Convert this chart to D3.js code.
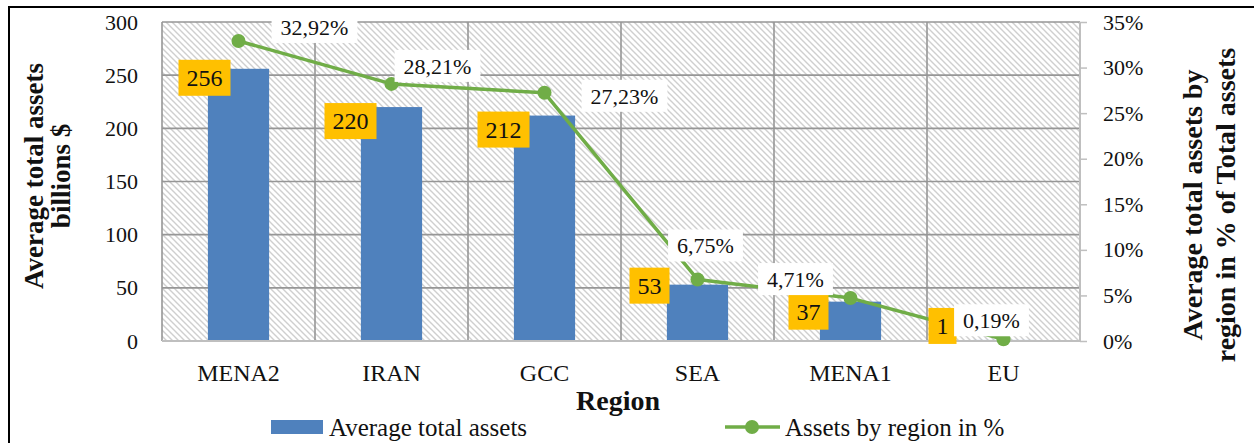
<!DOCTYPE html>
<html>
<head>
<meta charset="utf-8">
<script src="https://cdn.jsdelivr.net/npm/d3@7/dist/d3.min.js"></script>
<style>
  html, body { margin: 0; padding: 0; background: #fff; }
  svg { display: block; }
  svg text { font-family: "Liberation Serif", "DejaVu Serif", "Noto Serif", serif !important; fill: #111; }
</style>
</head>
<body>
<svg id="chart" width="1254" height="443"></svg>
<script>
// ---- data ----
const categories = ["MENA2", "IRAN", "GCC", "SEA", "MENA1", "EU"];
const avgAssets = [256, 220, 212, 53, 37, 1];
const assetsPct = [0.3292, 0.2821, 0.2723, 0.0675, 0.0471, 0.0019];
const pctLabels = ["32,92%", "28,21%", "27,23%", "6,75%", "4,71%", "0,19%"];
const leftTicks = [0, 50, 100, 150, 200, 250, 300];
const rightTicks = [0, 0.05, 0.10, 0.15, 0.20, 0.25, 0.30, 0.35];
const seriesNames = ["Average total assets", "Assets by region in %"];

// label nudges (manual placement as in the reference), pixels
const valueLabelNudge = [[-34, 9], [-41, 14], [-41, 14], [-48, 1], [-42, 10], [-61, -14]];
const pctLabelNudge = [[76, -14], [46, -18], [80, 3], [8, -34], [-55, -19], [-12, -19]];

// ---- layout ----
const W = 1254, H = 443;
const plot = { left: 162, right: 1080, top: 22, bottom: 341 };
const FONT = "'Liberation Serif', 'DejaVu Serif', 'Noto Serif', serif";
const svg = d3.select("#chart").style("font-family", FONT);

const x = d3.scaleBand().domain(categories).range([plot.left, plot.right]).padding(0);
const yL = d3.scaleLinear().domain([0, 300]).range([plot.bottom, plot.top]);
const yR = d3.scaleLinear().domain([0, 0.35]).range([plot.bottom, plot.top]);

// outer border (top + left visible)
svg.append("line").attr("x1", 9).attr("x2", W).attr("y1", 7).attr("y2", 7)
  .attr("stroke", "#000").attr("stroke-width", 2);
svg.append("line").attr("x1", 9).attr("x2", 9).attr("y1", 6).attr("y2", H)
  .attr("stroke", "#000").attr("stroke-width", 2);

// hatch pattern
const defs = svg.append("defs");
const pat = defs.append("pattern").attr("id", "hatch")
  .attr("patternUnits", "userSpaceOnUse").attr("width", 6).attr("height", 6);
pat.append("rect").attr("width", 6).attr("height", 6).attr("fill", "#fff");
pat.append("path").attr("d", "M-1,-1 L7,7 M-1,5 L1,7 M5,-1 L7,1")
  .attr("stroke", "#cfcfcf").attr("stroke-width", 1.4);

svg.append("rect").attr("x", plot.left).attr("y", plot.top)
  .attr("width", plot.right - plot.left).attr("height", plot.bottom - plot.top)
  .attr("fill", "url(#hatch)");

// gridlines
const grid = svg.append("g");
grid.selectAll(".hg").data(leftTicks.filter(d => d > 0)).join("line")
  .attr("x1", plot.left).attr("x2", plot.right)
  .attr("y1", d => yL(d)).attr("y2", d => yL(d))
  .attr("stroke", "#969696").attr("stroke-width", 1.6);
grid.selectAll(".vg").data(categories).join("line")
  .attr("x1", d => x(d)).attr("x2", d => x(d))
  .attr("y1", plot.top).attr("y2", plot.bottom)
  .attr("stroke", "#969696").attr("stroke-width", 1.6);

// bars
const bw = x.bandwidth() * 0.4;
svg.append("g").selectAll("rect").data(avgAssets).join("rect")
  .attr("x", (d, i) => x(categories[i]) + x.bandwidth() / 2 - bw / 2)
  .attr("y", d => yL(d))
  .attr("width", bw)
  .attr("height", d => yL(0) - yL(d))
  .attr("fill", "#4F81BD");

// bottom axis line
svg.append("line").attr("x1", plot.left).attr("x2", plot.right)
  .attr("y1", plot.bottom).attr("y2", plot.bottom)
  .attr("stroke", "#bfbfbf").attr("stroke-width", 2);

function styleTicks(g, size) {
  g.attr("font-family", FONT);
  g.selectAll("text").attr("font-family", FONT).style("font-size", size + "px").attr("fill", "#111");
}

// left axis
const axL = d3.axisLeft(yL).tickValues(leftTicks).tickSize(0).tickPadding(24);
const gL = svg.append("g").attr("transform", `translate(${plot.left},0)`).call(axL);
gL.select(".domain").remove();
styleTicks(gL, 22);

// right axis
const axR = d3.axisRight(yR).tickValues(rightTicks).tickSize(7).tickPadding(16)
  .tickFormat(d => Math.round(d * 100) + "%");
const gR = svg.append("g").attr("transform", `translate(${plot.right},0)`).call(axR);
gR.select(".domain").attr("stroke", "#bfbfbf").attr("stroke-width", 2).attr("d", `M0,${plot.top}V${plot.bottom}`);
gR.selectAll(".tick line").attr("stroke", "#bfbfbf").attr("stroke-width", 1.5);
styleTicks(gR, 22);

// bottom axis labels
const axB = d3.axisBottom(x).tickSize(0).tickPadding(23);
const gB = svg.append("g").attr("transform", `translate(0,${plot.bottom})`).call(axB);
gB.select(".domain").remove();
styleTicks(gB, 24);

// line series
const cx = i => x(categories[i]) + x.bandwidth() / 2;
const line = d3.line().x((d, i) => cx(i)).y(d => yR(d));
svg.append("path").datum(assetsPct).attr("d", line)
  .attr("fill", "none").attr("stroke", "#70AD47").attr("stroke-width", 3.5)
  .attr("stroke-linejoin", "round");
svg.append("g").selectAll("circle").data(assetsPct).join("circle")
  .attr("cx", (d, i) => cx(i)).attr("cy", d => yR(d)).attr("r", 7)
  .attr("fill", "#70AD47");

// value labels (yellow boxes)
const vl = svg.append("g").selectAll("g").data(avgAssets).join("g")
  .attr("transform", (d, i) => `translate(${cx(i) + valueLabelNudge[i][0]},${yL(d) + valueLabelNudge[i][1]})`);
vl.each(function (d) {
  const g = d3.select(this);
  const t = g.append("text").text(d).attr("text-anchor", "middle").attr("dy", "0.35em")
    .style("font-size", "24px");
  const w = t.node().getComputedTextLength() + 16;
  g.insert("rect", "text").attr("x", -w / 2).attr("y", -18).attr("width", w).attr("height", 36)
    .attr("fill", "#FFC000");
});

// percent labels (white boxes)
const pl = svg.append("g").selectAll("g").data(assetsPct).join("g")
  .attr("transform", (d, i) => `translate(${cx(i) + pctLabelNudge[i][0]},${yR(d) + pctLabelNudge[i][1]})`);
pl.each(function (d, i) {
  const g = d3.select(this);
  const t = g.append("text").text(pctLabels[i]).attr("text-anchor", "middle").attr("dy", "0.35em")
    .style("font-size", "22px");
  const w = t.node().getComputedTextLength() + 18;
  g.insert("rect", "text").attr("x", -w / 2).attr("y", -16).attr("width", w).attr("height", 32)
    .attr("fill", "#fff");
});

// axis titles
svg.append("text").attr("transform", "translate(618,400)").attr("text-anchor", "middle")
  .attr("dy", "0.35em").style("font-size", "28px").style("font-weight", "bold").text("Region");

const lt = svg.append("text").attr("transform", "translate(0,176) rotate(-90)")
  .attr("text-anchor", "middle").style("font-size", "27px").style("font-weight", "bold");
lt.append("tspan").attr("x", 0).attr("y", 43).text("Average total assets");
lt.append("tspan").attr("x", 0).attr("y", 70).text("billions $");

const rt = svg.append("text").attr("transform", "translate(0,205) rotate(-90)")
  .attr("text-anchor", "middle").style("font-size", "28px").style("font-weight", "bold");
rt.append("tspan").attr("x", 0).attr("y", 1202).text("Average total assets by");
rt.append("tspan").attr("x", 0).attr("y", 1235).text("region in % of Total assets");

// legend
const lg = svg.append("g");
lg.append("rect").attr("x", 271).attr("y", 420).attr("width", 52).attr("height", 14).attr("fill", "#4F81BD");
lg.append("text").attr("x", 329).attr("y", 427).attr("dy", "0.35em").style("font-size", "25px").text(seriesNames[0]);
lg.append("line").attr("x1", 725).attr("x2", 780).attr("y1", 427).attr("y2", 427)
  .attr("stroke", "#70AD47").attr("stroke-width", 3.5);
lg.append("circle").attr("cx", 752).attr("cy", 427).attr("r", 7).attr("fill", "#70AD47");
lg.append("text").attr("x", 785).attr("y", 427).attr("dy", "0.35em").style("font-size", "25px").text(seriesNames[1]);
</script>
</body>
</html>
